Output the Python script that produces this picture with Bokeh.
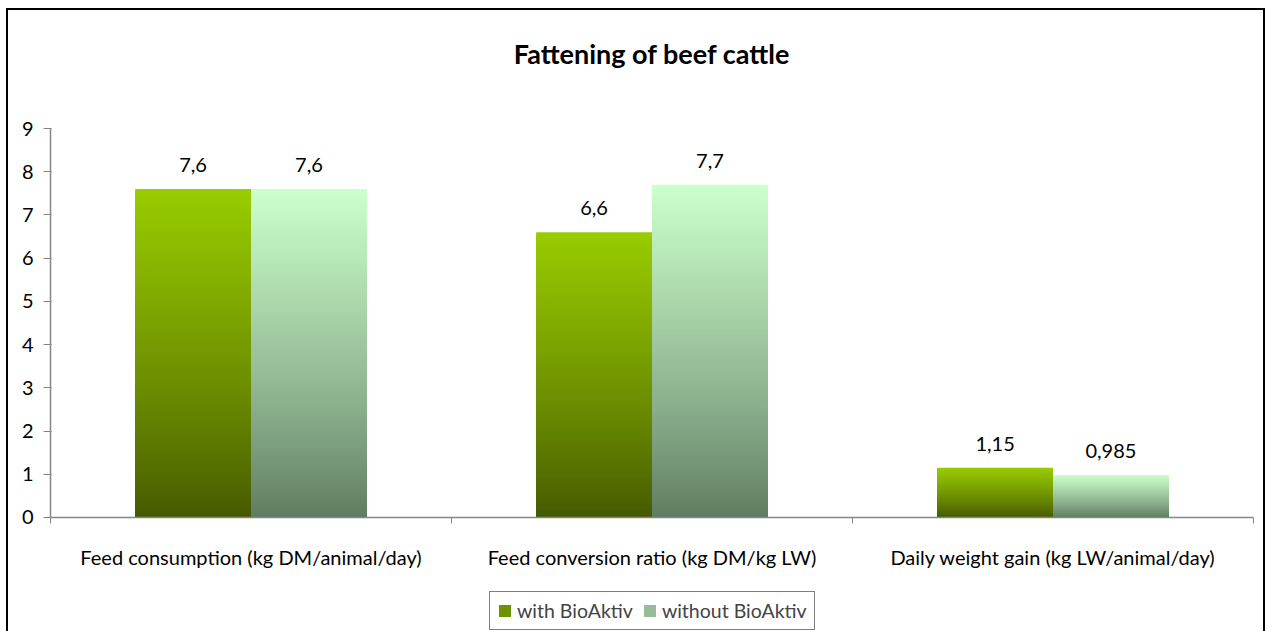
import math
from bokeh.plotting import figure
from bokeh.models import ColumnDataSource, FixedTicker, Legend, LegendItem
from bokeh.core.properties import value
from bokeh.embed import file_html
from bokeh.resources import INLINE

title_text = "Fattening of beef cattle"
categories = ["Feed consumption (kg DM/animal/day)",
              "Feed conversion ratio (kg DM/kg LW)",
              "Daily weight gain (kg LW/animal/day)"]
series_names = ["with BioAktiv", "without BioAktiv"]
with_vals = [7.6, 6.6, 1.15]
without_vals = [7.6, 7.7, 0.985]
with_labels = ["7,6", "6,6", "1,15"]
without_labels = ["7,6", "7,7", "0,985"]
y_ticks = [0, 1, 2, 3, 4, 5, 6, 7, 8, 9]
y_max = 9
n_cat = len(categories)

# gradient end colours (bottom, top)
grad_with = ((0x44, 0x58, 0x00), (0x99, 0xCC, 0x00))
grad_without = ((0x5E, 0x7A, 0x60), (0xCC, 0xFF, 0xCC))
FONT = "Lato"

# layout (pixels): frame spans the whole canvas right of the y-axis panel
W, H = 1255, 621
LB = 40           # left panel width
PX_X = 401.0      # px per category
PX_Y = 43.222     # px per y unit
LEFT_PAD = 2      # px between frame left edge and value axis line
TOP_PAD = 118     # px above y_max
BOT_PAD = 114     # px below 0
x0 = -LEFT_PAD / PX_X
x1 = x0 + (W - LB) / PX_X
y0 = -BOT_PAD / PX_Y
y1 = y_max + TOP_PAD / PX_Y

p = figure(width=W, height=H, x_range=(x0, x1), y_range=(y0, y1),
           output_backend="svg", toolbar_location=None, title=None,
           x_axis_location=None,
           min_border_left=LB, min_border_right=0, min_border_top=0,
           min_border_bottom=0)
p.margin = (10, 0, 0, 8)
p.styles = {"box-shadow": "0 0 0 2px #000"}
p.outline_line_color = None
p.grid.visible = False
p.background_fill_color = "white"
p.border_fill_color = "white"

half = 0.289
N = 120


def hexc(c):
    return "#%02x%02x%02x" % tuple(int(round(v)) for v in c)


def gradient(vals, side, grad):
    # stacked from the top colour down: each slice starts at 0, so no seams
    L, R, B, T, C = [], [], [], [], []
    for i, v in enumerate(vals):
        c = i + 0.5
        l, r = (c - half, c) if side == 0 else (c, c + half)
        for k in range(N, 0, -1):
            t1 = k / N
            tm = ((k - 0.5) / N) ** 0.85
            col = [grad[0][j] + (grad[1][j] - grad[0][j]) * tm for j in range(3)]
            L.append(l); R.append(r); B.append(0); T.append(v * t1)
            C.append(hexc(col))
    return ColumnDataSource(dict(left=L, right=R, bottom=B, top=T, color=C))


p.quad(left="left", right="right", bottom="bottom", top="top", fill_color="color",
       line_color=None, source=gradient(with_vals, 0, grad_with))
p.quad(left="left", right="right", bottom="bottom", top="top", fill_color="color",
       line_color=None, source=gradient(without_vals, 1, grad_without))

# category axis (drawn along value 0)
p.segment(x0=[0], y0=[0], x1=[n_cat], y1=[0], line_color="#868686", line_width=1.5)
p.ray(x=list(range(n_cat + 1)), y=[0] * (n_cat + 1), length=6, length_units="screen",
      angle=-math.pi / 2, line_color="#868686", line_width=1)
p.text(x=[i + 0.5 for i in range(n_cat)], y=[0] * n_cat, text=categories,
       text_align="center", text_baseline="middle", y_offset=40,
       text_font=value(FONT), text_font_size="20px", text_color="#000")

# value axis line
p.segment(x0=[0], y0=[0], x1=[0], y1=[y_max], line_color="#868686", line_width=1.5)
ay = p.yaxis[0]
ay.ticker = FixedTicker(ticks=y_ticks)
ay.minor_tick_line_color = None
ay.axis_line_color = None
ay.major_tick_line_color = "#868686"
ay.major_tick_out = 5
ay.major_tick_in = 3
ay.major_label_text_font = FONT
ay.major_label_text_font_size = "20px"
ay.major_label_text_color = "#000"
ay.major_label_standoff = 10

# value labels
lx = [i + 0.5 - half / 2 for i in range(n_cat)] + [i + 0.5 + half / 2 for i in range(n_cat)]
ly = with_vals + without_vals
lt = with_labels + without_labels
p.text(x=lx, y=ly, text=lt, text_align="center", text_baseline="middle",
       y_offset=-24, text_font=value(FONT), text_font_size="20px", text_color="#000")

# title
p.text(x=[n_cat / 2], y=[y_max], text=[title_text], text_align="center",
       text_baseline="middle", y_offset=-75, text_font=value(FONT),
       text_font_size="27px", text_font_style="bold", text_color="#000")

# legend with dummy swatches (outside visible range)
r1 = p.quad(left=[-10], right=[-9], bottom=[-10], top=[-9], fill_color="#6E9200", line_color=None)
r2 = p.quad(left=[-10], right=[-9], bottom=[-10], top=[-9], fill_color="#98BC99", line_color=None)
legend = Legend(items=[LegendItem(label=series_names[0], renderers=[r1]),
                       LegendItem(label=series_names[1], renderers=[r2])],
                orientation="horizontal", location=(441, 1),
                border_line_color="#000", border_line_width=1,
                label_text_font=FONT, label_text_font_size="19.5px",
                glyph_width=15, glyph_height=15, label_standoff=5, label_height=22,
                spacing=9, padding=7, margin=0, background_fill_alpha=1)
p.add_layout(legend)

open("out.html", "w").write(file_html(p, INLINE))
